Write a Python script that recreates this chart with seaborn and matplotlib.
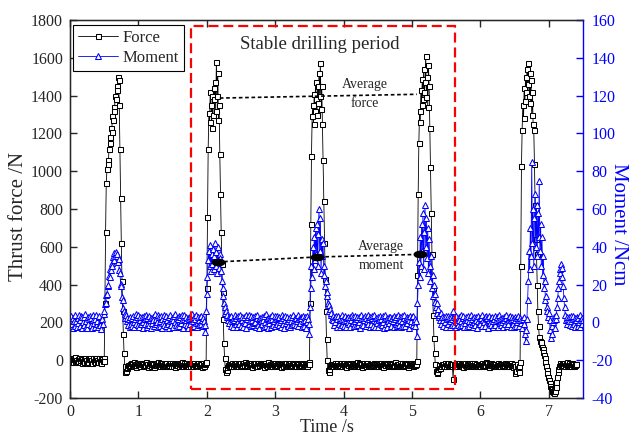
import numpy as np
import seaborn as sns
import matplotlib.pyplot as plt
from matplotlib.patches import Rectangle
from matplotlib.path import Path

SAMPLE_STEP = 0.01  # s between samples

# thrust force /N, one row = 0.1 s
FORCE = [
    5, -8, 12, -3, 9, -12, 4, 15, -6, 2,
    -10, 7, -4, 13, -9, 3, 11, -14, 6, -2,
    8, -11, 14, -5, 1, -13, 10, -7, 5, 12,
    -9, 3, -15, 8, 11, -4, -12, 6, 14, -8,
    2, -10, 9, 13, -6, 4, -14, 7, -3, 11,
    -5, 300, 680, 940, 1010, 1060, 1040, 1120, 1180, 1150,
    1230, 1210, 1290, 1270, 1340, 1320, 1400, 1380, 1450, 1430,
    1500, 1480, 1350, 1120, 860, 620, 420, 260, 140, 40,
    -30, -60, -55, -40, -35, -25, -30, -20, -28, -15,
    -22, -18, -30, -25, -12, -20, -35, -24, -16, -28,
    -19, -26, -14, -31, -22, -17, -27, -20, -33, -15,
    -24, -12, -29, -21, -34, -18, -25, -16, -30, -22,
    -13, -27, -20, -36, -23, -15, -28, -19, -26, -11,
    -25, -32, -17, -22, -29, -14, -24, -31, -18, -26,
    -20, -15, -33, -24, -19, -28, -13, -25, -30, -17,
    -23, -29, -16, -21, -35, -24, -18, -27, -14, -22,
    -30, -19, -26, -12, -24, -31, -20, -17, -28, -23,
    -15, -27, -22, -33, -18, -25, -29, -14, -21, -26,
    -32, -20, -16, -24, -28, -19, -23, -13, -30, -25,
    -18, -26, -21, -34, -17, -24, -29, -20, -15, -10,
    380, 760, 1120, 1310, 1260, 1420, 1350, 1230, 1400, 1300,
    1440, 1380, 1470, 1320, 1580, 1400, 1520, 1270, 1350, 1090,
    880, 680, 510, 360, 220, 90, 10, -45, -60, -50,
    -38, -25, -30, -18, -27, -22, -33, -16, -24, -29,
    -21, -27, -15, -30, -24, -18, -33, -22, -26, -14,
    -29, -20, -25, -17, -31, -23, -12, -28, -19, -24,
    -16, -30, -22, -27, -13, -25, -34, -20, -18, -26,
    -23, -15, -29, -21, -32, -17, -24, -28, -14, -22,
    -27, -19, -25, -35, -20, -16, -28, -23, -30, -18,
    -12, -26, -21, -29, -24, -33, -17, -22, -27, -15,
    -25, -31, -18, -23, -14, -28, -20, -26, -34, -21,
    -19, -24, -30, -16, -27, -22, -13, -29, -25, -20,
    -28, -17, -23, -32, -21, -26, -15, -24, -19, -30,
    -22, -29, -14, -25, -18, -31, -27, -20, -23, -16,
    -26, -21, -33, -19, -24, -28, -17, -30, -22, -12,
    -20, 300, 720, 1080, 1290, 1350, 1250, 1410, 1320, 1470,
    1380, 1300, 1450, 1360, 1520, 1400, 1570, 1330, 1450, 1250,
    1060, 840, 620, 430, 260, 110, 0, -50, -65, -45,
    -30, -22, -27, -18, -25, -33, -20, -15, -28, -24,
    -17, -29, -23, -31, -19, -26, -14, -24, -30, -21,
    -25, -13, -28, -22, -34, -18, -23, -27, -16, -29,
    -20, -32, -24, -15, -26, -21, -30, -18, -25, -12,
    -28, -23, -17, -31, -22, -27, -19, -35, -24, -20,
    -14, -26, -29, -21, -16, -25, -32, -23, -18, -27,
    -30, -19, -24, -28, -13, -22, -26, -33, -20, -25,
    -17, -31, -21, -24, -29, -15, -27, -22, -34, -19,
    -23, -28, -16, -26, -20, -30, -14, -25, -21, -32,
    -27, -18, -33, -22, -25, -12, -29, -24, -19, -26,
    -21, -30, -24, -17, -28, -23, -15, -31, -26, -20,
    -24, -16, -29, -22, -35, -19, -27, -21, -13, -28,
    -22, -18, -30, -25, -14, -27, -20, -5, 450, 880,
    1150, 1320, 1260, 1430, 1350, 1490, 1380, 1540, 1420, 1470,
    1610, 1390, 1500, 1340, 1560, 1450, 1230, 1020, 780, 560,
    380, 240, 120, 40, -20, -55, -70, -60, -45, -35,
    -28, -40, -25, -31, -19, -26, -22, -33, -17, -24,
    -29, -21, -27, -15, -30, -23, -18, -26, -32, -20,
    -100, -25, -19, -28, -14, -24, -31, -22, -27, -16,
    -23, -30, -18, -25, -21, -34, -20, -26, -13, -29,
    -19, -24, -32, -17, -27, -22, -28, -15, -25, -30,
    -26, -14, -23, -29, -20, -31, -18, -24, -33, -21,
    -31, -22, -27, -16, -25, -19, -30, -23, -12, -28,
    -15, -29, -20, -34, -24, -26, -17, -22, -31, -25,
    -27, -21, -18, -30, -23, -14, -28, -25, -20, -32,
    -22, -33, -26, -19, -29, -24, -16, -31, -21, -27,
    -18, -25, -30, -22, -13, -27, -24, -35, -26, -20,
    -30, -70, -55, -25, -18, -40, -65, -30, -10, 500,
    1030, 1220, 1350, 1280, 1440, 1370, 1500, 1420, 1540, 1460,
    1575, 1400, 1520, 1360, 1480, 1300, 1420, 1250, 1220, 1040,
    820, 640, 560, 400, 260, 180, 125, 100, 85, 95,
    70, 60, 45, 30, 10, -10, -30, -50, -70, -90,
    -105, -120, -135, -148, -155, -162, -168, -158, -172, -165,
    -140, -115, -90, -65, -45, -30, -22, -15, -25, -18,
    -22, -28, -15, -24, -30, -19, -26, -12, -23, -29,
    -17, -25, -31, -20, -14, -27, -22, -33, -18, -24,
    -21,
]

# moment /Ncm, one row = 0.1 s
MOMENT = [
    1.5, -2.0, 3.2, -0.8, 2.4, -3.1, 0.6, 3.8, -1.7, 0.9,
    -2.6, 2.1, -0.3, 4.0, -1.9, 1.3, 3.5, -2.8, 2.7, 0.2,
    3.1, -1.2, 4.3, -2.3, 0.7, -3.0, 2.9, -0.6, 1.8, 3.6,
    -1.5, 2.4, -2.9, 1.1, 3.9, -0.4, -2.2, 1.6, 4.1, -1.1,
    0.8, -2.5, 2.9, 3.6, -1.4, 1.2, -3.3, 2.0, -0.6, 4.5,
    6.0, 9.5, 10.0, 14.5, 15.0, 19.5, 20.0, 24.5, 24.0, 28.5,
    27.5, 31.5, 30.0, 34.5, 33.0, 36.5, 35.0, 37.5, 35.0, 36.0,
    32.0, 33.5, 27.5, 26.0, 20.5, 19.0, 13.5, 12.0, 7.5, 6.0,
    4.5, 2.5, 3.8, 0.5, 2.2, -1.5, 1.8, -2.6, 3.0, -0.9,
    2.3, -1.8, 3.4, 0.1, -2.7, 1.9, 4.2, -0.9, 2.6, -1.4,
    3.7, -2.2, 1.0, 3.0, -1.1, 2.8, -3.2, 0.4, 3.3, -0.7,
    1.6, 4.0, -2.4, 2.2, -0.2, 3.5, -1.6, 1.4, -3.0, 2.5,
    -0.5, 3.1, 1.2, -2.1, 4.4, -1.0, 2.0, 0.3, -2.6, 3.8,
    2.9, -1.7, 0.6, 3.6, -2.9, 1.7, -0.1, 4.1, -1.3, 2.1,
    -2.0, 3.3, 1.5, -0.8, 2.7, -3.1, 3.9, 0.9, -1.5, 2.4,
    1.1, -2.5, 3.2, 0.0, 4.3, -1.2, 2.3, -2.2, 1.9, 3.4,
    -1.8, 2.6, -0.4, 3.7, 1.3, -2.8, 2.0, 4.0, -0.9, 1.0,
    3.0, -1.4, 2.5, -3.0, 1.8, 3.6, -0.6, 2.2, -2.3, 4.2,
    0.5, 2.8, -1.9, 1.6, 3.9, -0.3, -2.7, 3.1, 1.4, -1.2,
    2.7, -0.8, 3.5, 1.2, -2.0, 2.4, 0.6, -1.6, -5.0, 6.0,
    15, 24, 33, 38, 30, 41, 27, 36, 31, 39,
    28, 35, 42, 30, 37, 26, 40, 33, 29, 36,
    34, 27, 22, 18, 14, 10, 8, 5, 6, 3,
    4.0, 1.5, 3.0, -0.5, 2.6, -1.8, 3.3, 0.7, -2.4, 2.0,
    1.2, 3.8, -1.0, 2.4, -2.6, 0.9, 3.5, -0.7, 2.1, 4.0,
    -1.9, 1.5, 3.1, -2.3, 0.2, 2.9, -0.5, 3.7, -2.8, 1.7,
    2.6, -1.1, 4.1, 0.8, -2.0, 3.3, 1.0, -1.6, 2.8, -0.2,
    3.4, 0.4, -2.5, 2.2, 3.9, -1.3, 1.6, -3.1, 2.5, 0.9,
    -0.9, 2.7, 1.3, -2.2, 3.6, 0.1, -1.7, 4.2, 1.9, -2.9,
    2.3, -0.4, 3.0, 1.4, -2.4, 2.0, 3.8, -1.2, 0.6, 3.2,
    -2.1, 1.8, -0.8, 3.5, 2.1, -1.5, 2.9, 0.3, -2.7, 1.1,
    3.9, -1.0, 2.2, -2.8, 1.5, 3.4, -0.3, 2.6, -1.9, 0.7,
    1.6, 3.1, -2.3, 0.5, 2.8, -1.4, 4.0, 1.2, -0.6, 2.4,
    -1.6, 2.5, 0.9, 3.7, -2.0, 1.9, -0.1, 3.0, 2.2, -2.5,
    3.3, 0.6, -1.8, 2.7, 1.0, -2.9, 3.6, 0.2, 2.0, -1.1,
    -6, 8, 18, 30, 24, 40, 28, 45, 33, 50,
    36, 52, 30, 47, 60, 38, 55, 26, 44, 35,
    42, 25, 30, 19, 22, 14, 16, 10, 9, 6,
    7.0, 4.0, 5.0, 2.0, 3.5, 1.0, -1.4, 2.8, 0.4, 3.6,
    -2.2, 1.7, 3.2, -0.7, 2.5, -2.6, 1.1, 3.9, -1.3, 2.0,
    0.6, -1.9, 3.4, 1.5, -2.7, 2.3, 0.0, 3.1, -1.0, 2.8,
    -2.4, 1.3, 4.1, -0.5, 2.6, -1.8, 3.5, 0.8, -2.1, 1.9,
    3.0, -1.2, 0.4, 2.9, -2.8, 1.6, 3.7, -0.9, 2.2, -1.5,
    1.0, 3.3, -2.0, 2.4, 0.7, -1.1, 3.8, 1.8, -2.5, 2.7,
    -0.6, 2.1, 3.6, -1.7, 1.2, 4.0, -2.3, 0.9, 2.5, -0.2,
    2.9, -2.6, 1.4, 3.2, -0.8, 2.0, -1.6, 3.5, 0.3, -2.9,
    1.7, 3.9, -1.0, 2.3, -2.2, 0.5, 3.0, -0.4, 2.6, 1.1,
    -1.8, 2.4, 0.8, -2.7, 3.4, 1.6, -0.9, 2.8, -2.0, 3.7,
    0.2, -1.3, 2.9, 1.0, -2.4, 3.3, 0.6, -1.7, 2.1, 4.1,
    -2.1, 1.8, 3.1, -0.3, 2.5, -2.8, 1.4, 3.6, -1.1, 0.9,
    2.6, -1.5, 3.2, 0.4, -2.0, 1.7, 0.5, -7.0, 10.0, 20.0,
    32, 24, 45, 30, 52, 38, 58, 28, 48, 62,
    40, 55, 34, 50, 26, 44, 30, 22, 35, 18,
    25, 14, 20, 11, 15, 8, 10, 5, 7, 3,
    4.0, 1.5, 5.2, -0.6, 3.0, 1.2, -1.9, 2.6, 0.3, 3.4,
    -2.3, 1.9, 3.6, -1.0, 2.2, -2.7, 0.8, 3.1, -1.4, 2.0,
    6.0, -1.2, 2.7, 1.1, -2.5, 3.5, 0.2, -1.6, 2.9, 1.3,
    -2.0, 3.8, 0.7, -1.3, 2.4, 3.2, -2.6, 1.5, -0.4, 2.8,
    1.0, -2.2, 3.4, 0.5, -1.8, 2.6, 4.0, -0.9, 1.9, -2.4,
    3.1, 0.3, -1.5, 2.9, 1.4, -2.8, 3.6, 0.9, -1.1, 2.2,
    -0.7, 2.5, 3.9, -2.1, 1.2, 0.0, 2.8, -1.7, 3.3, 1.6,
    2.3, -2.9, 1.0, 3.5, -0.5, 2.1, -1.4, 3.0, 0.6, -2.3,
    1.8, 3.4, -1.2, 0.8, 2.7, -2.5, 1.3, 3.8, -0.2, 2.0,
    -1.6, 2.2, 0.4, -2.7, 3.1, 1.5, -0.8, 2.4, 3.7, -1.9,
    0.9, -1.0, 2.6, 3.3, -2.2, 1.1, 2.9, -0.6, 1.7, -2.6,
    3.0, 1.2, -1.7, 2.3, 0.1, 3.6, -2.0, 1.4, 2.5, -0.3,
    1.0, -3.0, 2.0, -1.0, 3.0, -6.0, -10.0, -4.0, 2.0, 12.0,
    22, 38, 28, 50, 35, 85, 42, 60, 30, 55,
    68, 40, 62, 35, 58, 45, 75, 38, 52, 30,
    45, 25, 35, 18, 22, 12, 14, 8, 6, 3,
    5, 1, -4, -8, -6, -2, 0, 3, 1, -3,
    2, 4, 8, 13, 18, 22, 26, 28, 31, 29,
    24, 19, 13, 8, 4, 1, 3, -1, 2, 0.5,
    2.8, -1.4, 3.2, 0.6, -2.1, 1.9, 3.5, -0.8, 2.4, -2.6,
    1.3, 3.0, -1.7, 2.2, 0.4, -2.4, 3.7, 1.0, -0.9, 2.5,
    1.2,
]

# average levels over the stable drilling period
AVG_FORCE_TIME = [2.19, 3.62, 5.07]
AVG_FORCE = [1387, 1397, 1407]
AVG_MOMENT_TIME = [2.16, 3.61, 5.12]
AVG_MOMENT = [32, 34.6, 36]

# stable period box: time span and force span
STABLE_TIME = [1.77, 5.63]
STABLE_FORCE = [-150, 1770]

X_TICKS = list(range(0, 8))
FORCE_TICKS = list(range(-200, 1801, 200))
MOMENT_TICKS = list(range(-40, 161, 20))

sns.set_style("ticks")
plt.rcParams["font.family"] = ["Liberation Serif", "DejaVu Serif"]
plt.rcParams["axes.unicode_minus"] = False

force = np.array(FORCE, dtype=float)
moment = np.array(MOMENT, dtype=float)
force_time = np.arange(len(force)) * SAMPLE_STEP
moment_time = np.arange(len(moment)) * SAMPLE_STEP

fig = plt.figure(figsize=(6.29, 4.36), dpi=100)
ax1 = fig.add_axes([0.1113, 0.0872, 0.8156, 0.8669])
ax2 = ax1.twinx()

sns.lineplot(x=force_time, y=force, ax=ax1, estimator=None, sort=False,
             color="black", linewidth=0.6, marker="s", markersize=3.6,
             markerfacecolor="white", markeredgecolor="black",
             markeredgewidth=0.75, label="Force", legend=False)
sns.lineplot(x=moment_time, y=moment, ax=ax2, estimator=None, sort=False,
             color="blue", linewidth=0.6, marker="^", markersize=4.2,
             markerfacecolor="white", markeredgecolor="blue",
             markeredgewidth=0.75, label="Moment", legend=False)

ax1.set_xlim(0, 7.5)
ax1.set_ylim(-200, 1800)
ax2.set_ylim(-40, 160)
ax1.set_xticks(X_TICKS)
ax1.set_yticks(FORCE_TICKS)
ax2.set_yticks(MOMENT_TICKS)

ax1.set_xlabel("Time /s", fontsize=13, labelpad=-0.5)
ax1.set_ylabel("Thrust force /N", fontsize=15, va="center")
ax1.yaxis.set_label_coords(-0.1, 0.48)
ax2.set_ylabel("Moment /Ncm", fontsize=15, color="blue", rotation=270,
               va="center")
ax2.yaxis.set_label_coords(1.07, 0.46)

ax1.tick_params(axis="both", direction="in", length=5, width=1,
                labelsize=11.5, pad=5, top=True, right=False)
ax1.tick_params(axis="x", pad=4)
ax2.tick_params(axis="y", direction="in", length=5, width=1,
                labelsize=11.5, pad=6, colors="blue")
for side in ["left", "bottom", "top"]:
    ax1.spines[side].set_linewidth(1)
    ax1.spines[side].set_color("black")
ax2.spines["right"].set_color("blue")
ax2.spines["right"].set_linewidth(1)
ax1.spines["right"].set_visible(False)

# stable drilling period box
box = Rectangle((STABLE_TIME[0], STABLE_FORCE[0]),
                STABLE_TIME[1] - STABLE_TIME[0],
                STABLE_FORCE[1] - STABLE_FORCE[0],
                transform=ax1.transData, fill=False, edgecolor="red",
                linewidth=1.6, linestyle=(0, (4.5, 2.2)), zorder=5)
ax2.add_patch(box)
ax2.text(sum(STABLE_TIME) / 2 - 0.05, 1668, "Stable drilling period",
         transform=ax1.transData, fontsize=13.5, ha="center", va="center")

# average force / moment guides
ax2.plot(AVG_FORCE_TIME, AVG_FORCE, transform=ax1.transData, color="black",
         linewidth=1.2, linestyle=(0, (2.2, 1.6)), zorder=6)
ax2.text(4.31, 1410, "Average\nforce", transform=ax1.transData, fontsize=10,
         ha="center", va="center", linespacing=1.6, zorder=7)

circle = Path.unit_circle()
ellipse = Path(circle.vertices * np.array([1.0, 0.5]), circle.codes)
ax2.plot(AVG_MOMENT_TIME, AVG_MOMENT, color="black", linewidth=1.2,
         linestyle=(0, (2.2, 1.6)), marker=ellipse, markersize=9,
         markerfacecolor="black", markeredgecolor="black", zorder=6)
ax2.text(4.55, 35.3, "Average\nmoment", fontsize=10, ha="center", va="center",
         linespacing=1.6, zorder=7)

handles = ax1.get_lines()[:1] + ax2.get_lines()[:1]
legend = ax2.legend(handles, ["Force", "Moment"], loc="upper left",
                    bbox_to_anchor=(0.005, 0.987), borderaxespad=0,
                    fontsize=12, handlelength=2.4, handletextpad=0.3,
                    borderpad=0.3, labelspacing=0.25, fancybox=False,
                    framealpha=1, edgecolor="black")
legend.get_frame().set_linewidth(0.8)
legend.set_zorder(10)

fig.savefig("out.png", dpi=100)
